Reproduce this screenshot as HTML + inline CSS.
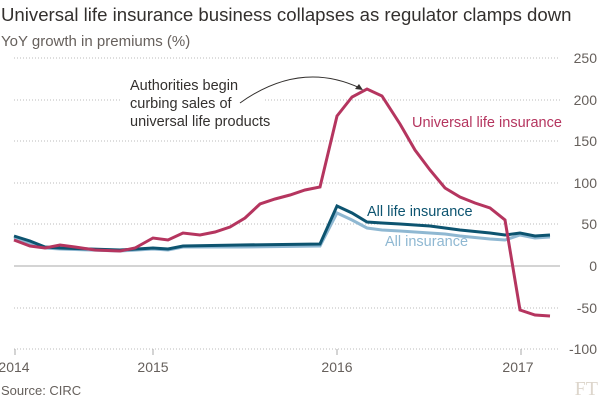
<!DOCTYPE html>
<html><head><meta charset="utf-8"><style>
body{margin:0;background:#fff;}
svg{display:block;font-family:"Liberation Sans",sans-serif;}
</style></head><body>
<svg width="600" height="400" viewBox="0 0 600 400">
<text x="1" y="21" font-size="18.6" fill="#33302e">Universal life insurance business collapses as regulator clamps down</text>
<text x="1" y="46" font-size="15" fill="#66605c">YoY growth in premiums (%)</text>
<g stroke="#bbb" stroke-dasharray="1,2" stroke-width="1">
<line x1="14" y1="58" x2="560" y2="58"/>
<line x1="14" y1="100" x2="122" y2="100"/><line x1="265" y1="100" x2="560" y2="100"/>
<line x1="14" y1="141" x2="560" y2="141"/>
<line x1="14" y1="183" x2="560" y2="183"/>
<line x1="14" y1="224" x2="560" y2="224"/>
<line x1="14" y1="308" x2="560" y2="308"/>
<line x1="14" y1="349" x2="560" y2="349"/>
</g>
<line x1="14" y1="266" x2="560" y2="266" stroke="#aaa"/>
<g stroke="#aaa"><line x1="15" y1="349" x2="15" y2="355"/><line x1="153" y1="349" x2="153" y2="355"/><line x1="337" y1="349" x2="337" y2="355"/><line x1="521" y1="349" x2="521" y2="355"/></g>
<g font-size="14" fill="#66605c" text-anchor="end">
<text x="597" y="63">250</text><text x="597" y="105">200</text><text x="597" y="146">150</text><text x="597" y="188">100</text><text x="597" y="229">50</text><text x="597" y="271">0</text><text x="597" y="313">-50</text><text x="597" y="354">-100</text>
</g>
<g font-size="14" fill="#66605c" text-anchor="middle">
<text x="14" y="372">2014</text><text x="153" y="372">2015</text><text x="337" y="372">2016</text><text x="518" y="372">2017</text>
</g>
<text x="1" y="395" font-size="13" fill="#66605c">Source: CIRC</text>
<text x="598" y="395" font-size="20" fill="#ddd6cc" text-anchor="end" font-family="Liberation Serif,serif">FT</text>
<polyline fill="none" stroke="#8fb8d2" stroke-width="3" points="14,238 30,243 45,248 60,249 90,250 120,251 153,249 168,250 183,247 240,247 320,246 337,213 352,220 367,228 382,230 400,231 430,233 445,234 460,236 490,239 505,240 520,235 535,238 550,237"/>
<polyline fill="none" stroke="#0d5470" stroke-width="3" points="14,236 30,241 45,247 60,248 90,249 120,250 153,248 168,249 183,246 240,245 320,244 337,206 352,213 367,222 382,223 400,224 430,226 445,228 460,230 490,233 505,235 520,233 535,236 550,235"/>
<polyline fill="none" stroke="#b5355f" stroke-width="3" points="14,240 30,246 45,248 60,245 75,247 95,250 120,251 135,248 153,238 168,240 183,233 200,235 215,232 230,227 245,218 260,204 275,199 290,195 305,190 320,187 337,116 352,97 367,89 382,96 400,124 415,150 430,170 445,188 460,197 475,203 490,208 505,220 520,310 535,315 550,316"/>
<text x="412" y="127" font-size="14.5" fill="#b5355f">Universal life insurance</text>
<text x="367" y="216" font-size="14.5" fill="#0d5470">All life insurance</text>
<text x="385" y="246" font-size="14.5" fill="#8fb8d2">All insurance</text>
<g font-size="14.5" fill="#33302e">
<text x="130" y="90">Authorities begin</text>
<text x="130" y="108">curbing sales of</text>
<text x="130" y="126">universal life products</text>
</g>
<path d="M240,103 Q300,60 360,88" fill="none" stroke="#33302e" stroke-width="1"/>
<path d="M363,90 L355,89 L359,84 Z" fill="#33302e"/>
</svg>
</body></html>
